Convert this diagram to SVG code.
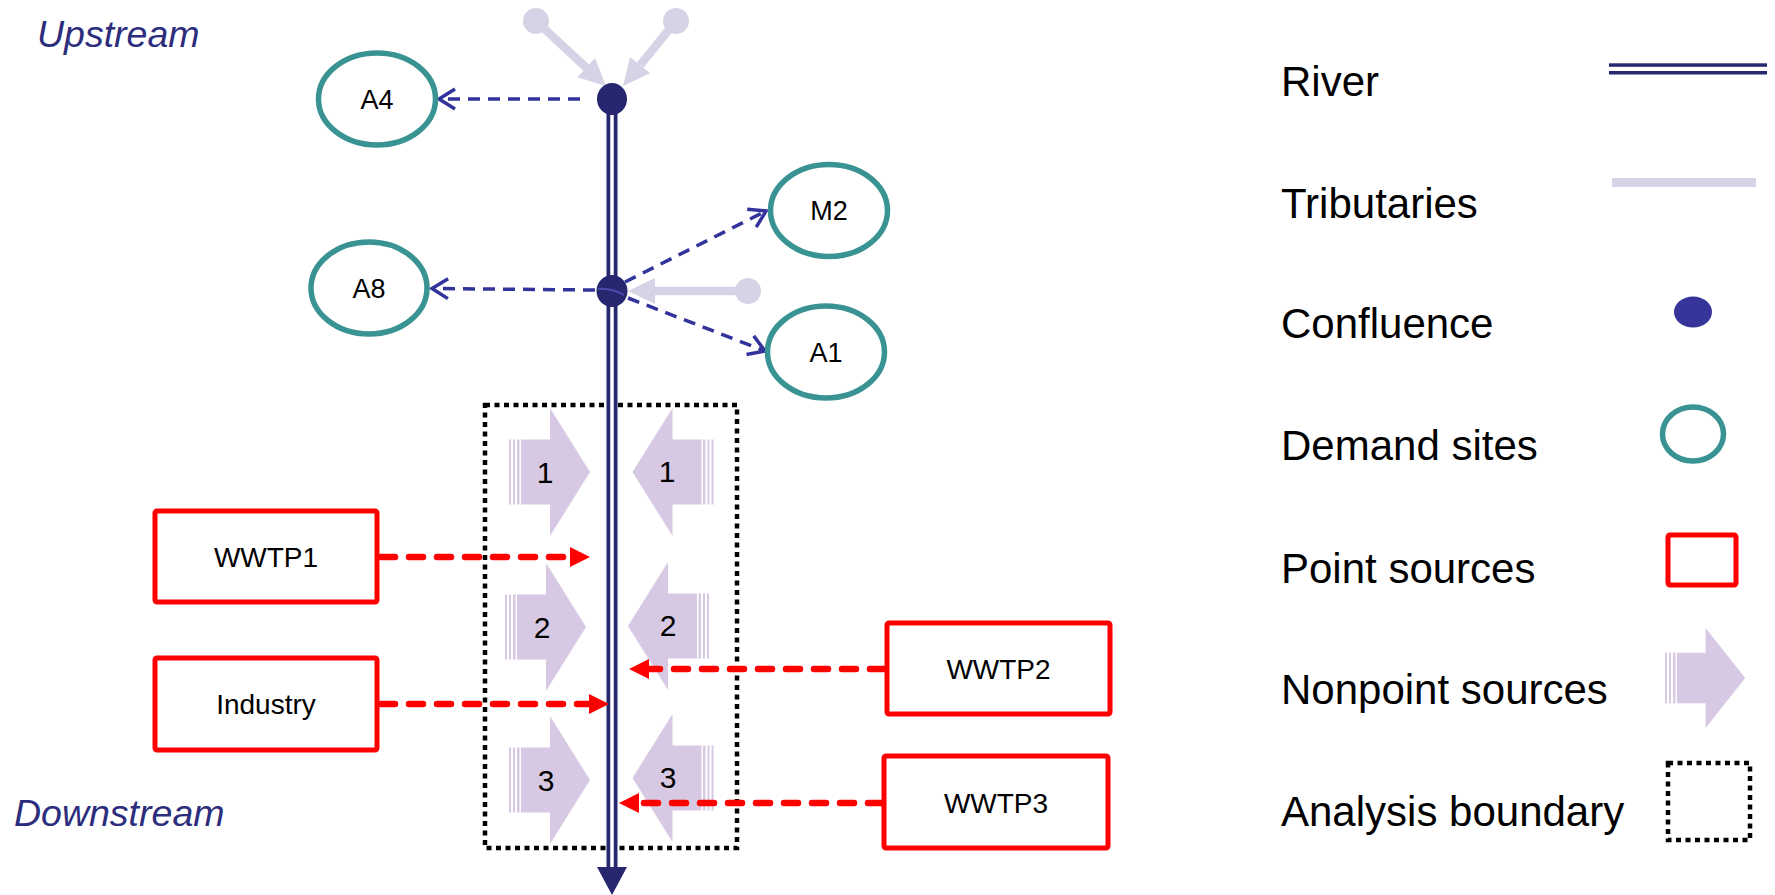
<svg xmlns="http://www.w3.org/2000/svg" xmlns:xlink="http://www.w3.org/1999/xlink" width="1775" height="895" viewBox="0 0 1775 895">
<style>
.lbl{font-family:"Liberation Sans",Arial,sans-serif;fill:#000}
.side{font-family:"Liberation Sans",Arial,sans-serif;font-style:italic;font-size:37.5px;fill:#2d2d7d}
.leg{font-family:"Liberation Sans",Arial,sans-serif;font-size:42px;fill:#000}
.demand{fill:#fff;stroke:#3a9393;stroke-width:5.5}
.ps{fill:#fff;stroke:#ff0000;stroke-width:5}
.conf{fill:#27276f}
.trib{stroke:#d5d4e6;stroke-width:8.5;fill:none}
.tribdot{fill:#d5d4e6}
.demline{stroke:#33339c;stroke-width:3.5;stroke-dasharray:12 8;fill:none}
.psline{stroke:#ff0000;stroke-width:6.5;stroke-dasharray:14 14;stroke-linecap:round;fill:none}
.bound{fill:none;stroke:#000;stroke-width:4.5;stroke-dasharray:5 4.5}
.np{fill:#d7c8e3}
</style>
<defs>
<marker id="tribHead" markerUnits="userSpaceOnUse" markerWidth="30" markerHeight="30" refX="0" refY="13" orient="auto" overflow="visible">
<path d="M0,0 L27,13 L0,26 Z" fill="#d5d4e6"/>
</marker>
<marker id="openHead" markerUnits="userSpaceOnUse" markerWidth="24" markerHeight="24" refX="16" refY="10" orient="auto" overflow="visible">
<path d="M0,0 L16,10 L0,20" fill="none" stroke="#33339c" stroke-width="3.5"/>
</marker>
<marker id="redHead" markerUnits="userSpaceOnUse" markerWidth="24" markerHeight="24" refX="2" refY="10" orient="auto" overflow="visible">
<path d="M0,0 L20,10 L0,20 Z" fill="#ff0000"/>
</marker>
<g id="npArrow">
<rect x="0" y="-32.5" width="2" height="65" class="np"/>
<rect x="4" y="-32.5" width="2" height="65" class="np"/>
<rect x="8" y="-32.5" width="2.5" height="65" class="np"/>
<path d="M12,-32.5 H41 V-64 L81,0 L41,64 V32.5 H12 Z" class="np"/>
</g>
</defs>
<rect width="1775" height="895" fill="#fff"/>

<text class="side" x="37" y="47">Upstream</text>
<text class="side" x="14" y="826">Downstream</text>

<!-- analysis boundary -->
<g id="analysis-boundary">
<rect class="bound" x="485" y="405" width="252" height="443"/>
</g>

<!-- nonpoint sources -->
<g id="np-left-1"><use xlink:href="#npArrow" transform="translate(509,472)"/><text class="lbl" x="545" y="483" font-size="30" text-anchor="middle">1</text></g>
<g id="np-left-2"><use xlink:href="#npArrow" transform="translate(505,627)"/><text class="lbl" x="542" y="638" font-size="30" text-anchor="middle">2</text></g>
<g id="np-left-3"><use xlink:href="#npArrow" transform="translate(509,780)"/><text class="lbl" x="546" y="791" font-size="30" text-anchor="middle">3</text></g>
<g id="np-right-1"><use xlink:href="#npArrow" transform="translate(713.5,472) scale(-1,1)"/><text class="lbl" x="667" y="482" font-size="30" text-anchor="middle">1</text></g>
<g id="np-right-2"><use xlink:href="#npArrow" transform="translate(709,626) scale(-1,1)"/><text class="lbl" x="668" y="636" font-size="30" text-anchor="middle">2</text></g>
<g id="np-right-3"><use xlink:href="#npArrow" transform="translate(713.5,778) scale(-1,1)"/><text class="lbl" x="668" y="788" font-size="30" text-anchor="middle">3</text></g>

<!-- connectors -->
<g id="connectors">
<!-- tributaries -->
<line class="trib" x1="536" y1="21" x2="586.2" y2="67.6" marker-end="url(#tribHead)"/>
<line class="trib" x1="676" y1="21" x2="640.1" y2="65.1" marker-end="url(#tribHead)"/>
<line class="trib" x1="748" y1="291" x2="655" y2="291" marker-end="url(#tribHead)"/>
<circle class="tribdot" cx="536" cy="21" r="13"/>
<circle class="tribdot" cx="676" cy="21" r="13"/>
<circle class="tribdot" cx="748" cy="291" r="13"/>
<!-- river -->
<line x1="612" y1="99" x2="612" y2="869" stroke="#27276f" stroke-width="11"/>
<line x1="612" y1="99" x2="612" y2="869" stroke="#fff" stroke-width="3.5"/>
<path d="M597,867 L627,867 L612,895 Z" fill="#27276f"/>
<!-- withdrawals -->
<line class="demline" x1="580" y1="99" x2="439" y2="99" marker-end="url(#openHead)"/>
<line class="demline" x1="595" y1="290" x2="432" y2="288.5" marker-end="url(#openHead)"/>
<line class="demline" x1="625" y1="282" x2="766" y2="211" marker-end="url(#openHead)"/>
<line class="demline" x1="628" y1="298" x2="765" y2="351" marker-end="url(#openHead)"/>
<!-- point source discharges -->
<line class="psline" x1="381" y1="557" x2="572" y2="557" marker-end="url(#redHead)"/>
<line class="psline" x1="381" y1="704" x2="591" y2="704" marker-end="url(#redHead)"/>
<line class="psline" x1="884" y1="669" x2="647" y2="669" marker-end="url(#redHead)"/>
<line class="psline" x1="882" y1="803" x2="637" y2="803" marker-end="url(#redHead)"/>
</g>

<!-- confluences -->
<g id="confluence-1"><ellipse class="conf" cx="612" cy="99" rx="15" ry="16"/></g>
<g id="confluence-2"><ellipse class="conf" cx="612" cy="291" rx="15.5" ry="16"/><path d="M598,289 Q612,288 624,295" fill="none" stroke="#4a4aaa" stroke-width="2"/></g>

<!-- demand sites -->
<g id="A4"><ellipse class="demand" cx="377" cy="99" rx="58.5" ry="46"/><text class="lbl" x="377" y="109" font-size="27" text-anchor="middle">A4</text></g>
<g id="M2"><ellipse class="demand" cx="829" cy="210.5" rx="58.5" ry="46"/><text class="lbl" x="829" y="220" font-size="27" text-anchor="middle">M2</text></g>
<g id="A8"><ellipse class="demand" cx="369" cy="288" rx="58" ry="46"/><text class="lbl" x="369" y="297.5" font-size="27" text-anchor="middle">A8</text></g>
<g id="A1"><ellipse class="demand" cx="826" cy="352" rx="58.5" ry="46"/><text class="lbl" x="826" y="362" font-size="27" text-anchor="middle">A1</text></g>

<!-- point sources -->
<g id="WWTP1"><rect class="ps" x="155" y="511" width="222" height="91" rx="2"/><text class="lbl" x="266" y="566.5" font-size="28" text-anchor="middle">WWTP1</text></g>
<g id="Industry"><rect class="ps" x="155" y="658" width="222" height="92" rx="2"/><text class="lbl" x="266" y="714" font-size="28" text-anchor="middle">Industry</text></g>
<g id="WWTP2"><rect class="ps" x="887" y="623" width="223" height="91" rx="2"/><text class="lbl" x="998.5" y="679" font-size="28" text-anchor="middle">WWTP2</text></g>
<g id="WWTP3"><rect class="ps" x="884" y="756" width="224" height="92" rx="2"/><text class="lbl" x="996" y="812.5" font-size="28" text-anchor="middle">WWTP3</text></g>

<!-- legend -->
<g id="legend">
<text class="leg" x="1281" y="96">River</text>
<rect x="1609" y="63.3" width="158" height="3.5" fill="#27276f"/>
<rect x="1609" y="71" width="158" height="3.5" fill="#27276f"/>
<text class="leg" x="1281" y="218">Tributaries</text>
<rect x="1612" y="178" width="144" height="9" fill="#d5d4e6"/>
<text class="leg" x="1281" y="338">Confluence</text>
<ellipse cx="1693" cy="312" rx="19" ry="15.5" fill="#35359a"/>
<text class="leg" x="1281" y="460">Demand sites</text>
<ellipse class="demand" cx="1693" cy="434" rx="30.5" ry="27"/>
<text class="leg" x="1281" y="583">Point sources</text>
<rect class="ps" x="1668" y="535" width="68" height="50" rx="2"/>
<text class="leg" x="1281" y="704">Nonpoint sources</text>
<use xlink:href="#npArrow" transform="translate(1665,678) scale(0.99,0.78)"/>
<text class="leg" x="1281" y="826">Analysis boundary</text>
<rect class="bound" x="1668" y="763" width="82" height="77"/>
</g>
</svg>
